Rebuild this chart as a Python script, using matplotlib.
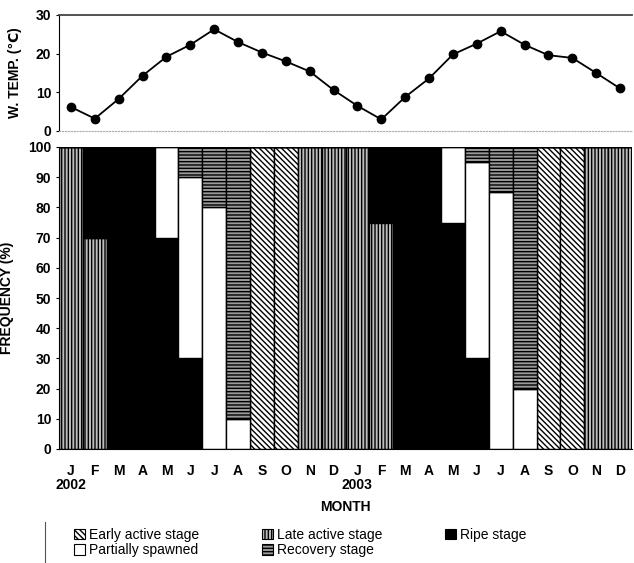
import numpy as np
import matplotlib
matplotlib.use('Agg')
import matplotlib.pyplot as plt
from matplotlib.patches import Patch
from matplotlib.lines import Line2D

plt.rcParams['font.family'] = ['Liberation Sans', 'DejaVu Sans']
plt.rcParams['hatch.linewidth'] = 1.0

# months Jan 2002 .. Dec 2003
months = ['J', 'F', 'M', 'A', 'M', 'J', 'J', 'A', 'S', 'O', 'N', 'D'] * 2
years = ['2002', '2003']

# water temperature (deg C)
temp = [6.2, 3.2, 8.3, 14.3, 19.2, 22.3, 26.3, 23.0, 20.3, 18.0, 15.4, 10.6,
        6.5, 3.0, 8.8, 13.6, 19.8, 22.6, 25.8, 22.3, 19.6, 18.9, 15.0, 11.0]

# gonad stage frequency (%)
early = [0, 0, 0, 0, 0, 0, 0, 0, 100, 100, 0, 0,
         0, 0, 0, 0, 0, 0, 0, 0, 100, 100, 0, 0]
late = [100, 70, 0, 0, 0, 0, 0, 0, 0, 0, 100, 100,
        100, 75, 0, 0, 0, 0, 0, 0, 0, 0, 100, 100]
ripe = [0, 30, 100, 100, 70, 30, 0, 0, 0, 0, 0, 0,
        0, 25, 100, 100, 75, 30, 0, 0, 0, 0, 0, 0]
partial = [0, 0, 0, 0, 30, 60, 80, 10, 0, 0, 0, 0,
           0, 0, 0, 0, 25, 65, 85, 20, 0, 0, 0, 0]
recovery = [0, 0, 0, 0, 0, 10, 20, 90, 0, 0, 0, 0,
            0, 0, 0, 0, 0, 5, 15, 80, 0, 0, 0, 0]

x = np.arange(len(months))

fig = plt.figure(figsize=(6.34, 5.63), dpi=100)
W, H = 634.0, 563.0
left, right = 59 / W, 632 / W

# --- temperature panel
ax1 = fig.add_axes([left, (H - 131) / H, right - left, (131 - 15) / H])
ax1.plot(x, temp, '-', color='black', lw=1.3, marker='o', ms=6,
         markerfacecolor='black', clip_on=False)
ax1.set_xlim(-0.5, len(x) - 0.5)
ax1.set_ylim(0, 30)
ax1.set_yticks([0, 10, 20, 30])
ax1.set_xticks([])
ax1.spines['right'].set_visible(False)
ax1.spines['top'].set_color('#444444')
ax1.spines['top'].set_linewidth(1.3)
ax1.spines['bottom'].set_linestyle(':')
ax1.spines['bottom'].set_color('#aaaaaa')
ax1.set_ylabel('W. TEMP. (\u2103)', fontsize=10, fontweight='bold', labelpad=10)
ax1.tick_params(axis='y', length=2, labelsize=10)
for t in ax1.get_yticklabels():
    t.set_fontweight('bold')

# --- frequency panel
ax2 = fig.add_axes([left, (H - 449) / H, right - left, (449 - 147) / H])
styles = [
    ('Early active stage', early, dict(color='white', hatch='\\\\\\\\\\\\')),
    ('Late active stage', late, dict(color='#bdbdbd', hatch='|||||')),
    ('Ripe stage', ripe, dict(color='black', hatch=None)),
    ('Partially spawned', partial, dict(color='white', hatch=None)),
    ('Recovery stage', recovery, dict(color='#9a9a9a', hatch='-----')),
]
bottom = np.zeros(len(x))
handles = {}
for name, vals, st in styles:
    vals = np.array(vals, dtype=float)
    ax2.bar(x, vals, width=1.0, bottom=bottom, color=st['color'],
            hatch=st['hatch'], edgecolor='black', linewidth=1.0)
    bottom += vals
    handles[name] = Patch(facecolor=st['color'], hatch=st['hatch'],
                          edgecolor='black', linewidth=0.8)

ax2.set_xlim(-0.5, len(x) - 0.5)
ax2.set_ylim(0, 100)
ax2.set_yticks(np.arange(0, 101, 10))
ax2.set_xticks(x)
ax2.set_xticklabels(months)
ax2.tick_params(axis='x', length=0, pad=11, labelsize=10)
ax2.tick_params(axis='y', length=2, labelsize=10)
for t in ax2.get_xticklabels() + ax2.get_yticklabels():
    t.set_fontweight('bold')
ax2.spines['right'].set_visible(False)
ax2.spines['top'].set_visible(False)
ax2.set_ylabel('FREQUENCY (%)', fontsize=10, fontweight='bold', labelpad=10)

# year labels under January
for i, yr in enumerate(years):
    ax2.text(x[i * 12], (H - 485) / H, yr,
             transform=matplotlib.transforms.blended_transform_factory(
                 ax2.transData, fig.transFigure),
             ha='center', va='center', fontsize=10, fontweight='bold')
fig.text(345 / W, (H - 507) / H, 'MONTH', ha='center', va='center',
         fontsize=10, fontweight='bold')

# legend
order = ['Early active stage', 'Partially spawned', 'Late active stage',
         'Recovery stage', 'Ripe stage']
fig.legend([handles[n] for n in order], order, ncol=3,
           loc='upper left', bbox_to_anchor=(74 / W, (H - 528) / H),
           frameon=False, fontsize=10, handlelength=0.8, handleheight=0.8,
           handletextpad=0.3, columnspacing=4.5, labelspacing=0.1,
           borderaxespad=0, borderpad=0)
fig.add_artist(Line2D([45 / W, 45 / W], [0, (H - 522) / H], color='#555555',
                      lw=0.8, transform=fig.transFigure))

fig.savefig('out.png', dpi=100)
